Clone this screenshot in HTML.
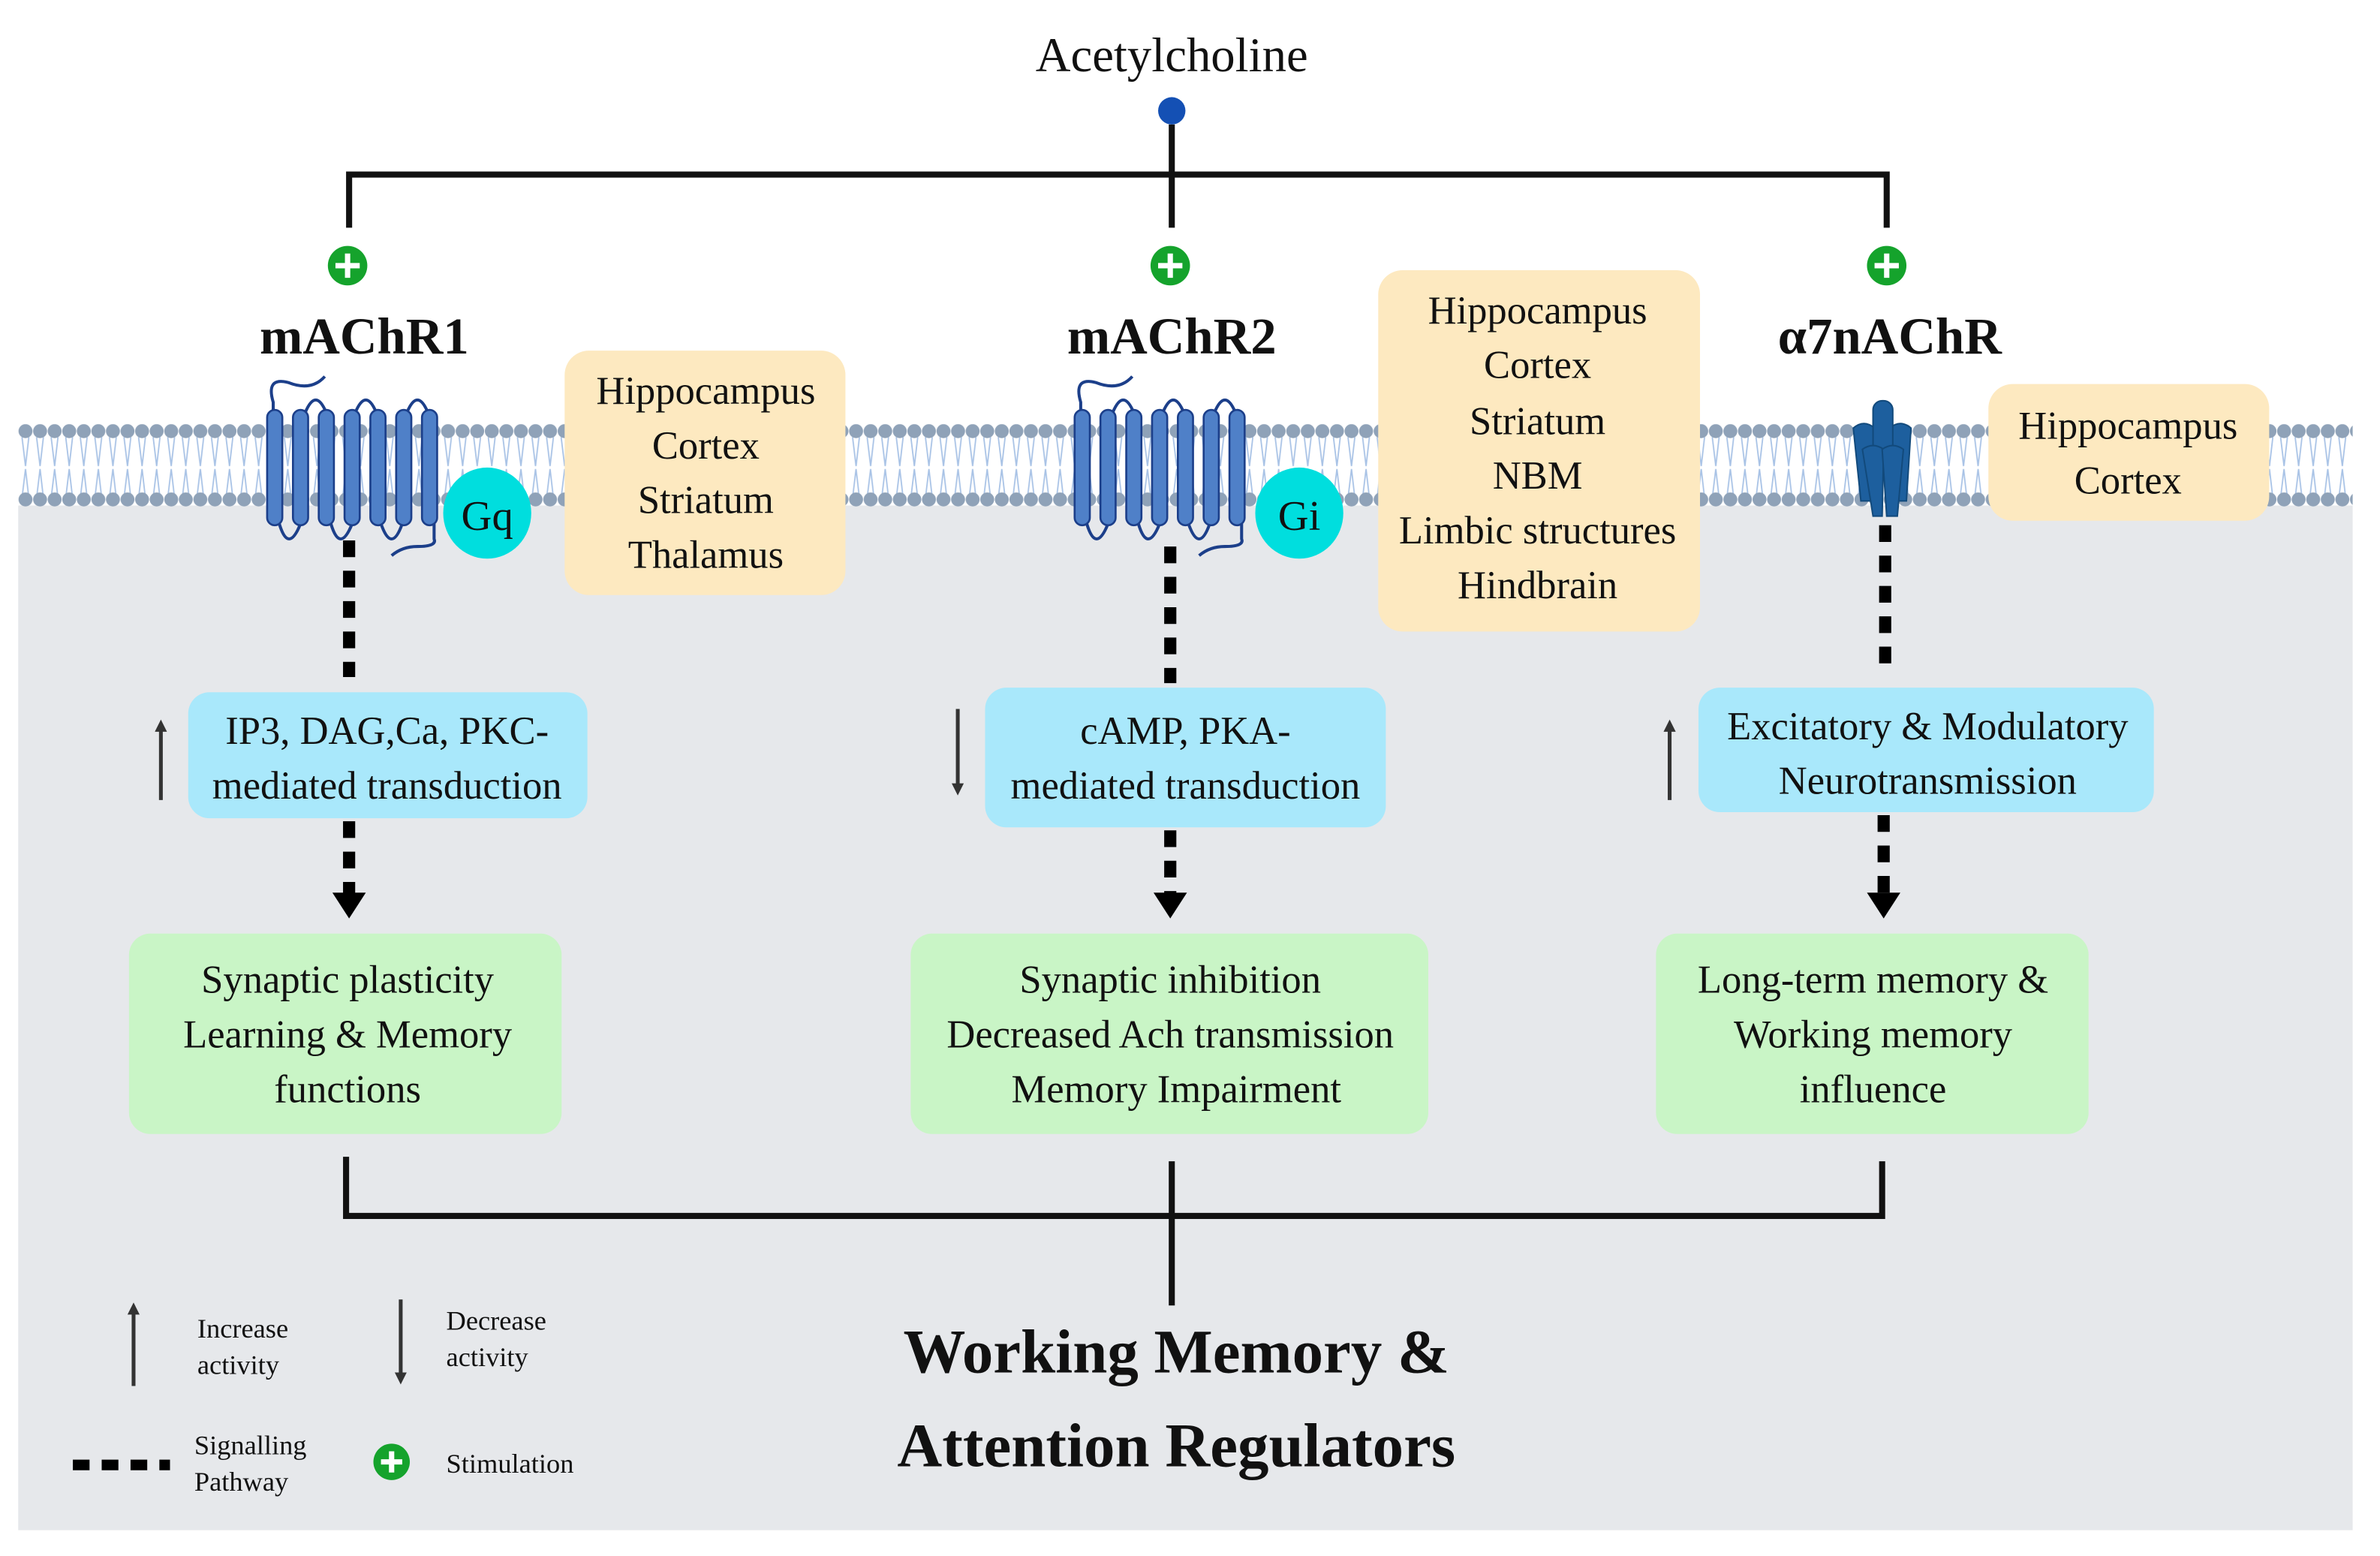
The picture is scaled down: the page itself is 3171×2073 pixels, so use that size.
<!DOCTYPE html>
<html><head><meta charset="utf-8"><style>
html,body{margin:0;padding:0;background:#fff}
svg{display:block}
text{font-family:"Liberation Serif","Times New Roman",serif;fill:#111}
</style></head><body>
<svg width="3171" height="2073" viewBox="0 0 1568 1025" preserveAspectRatio="none" xmlns="http://www.w3.org/2000/svg" font-family="Liberation Serif, serif">
<defs>
<pattern id="lip" x="12" y="278" width="9.6" height="60" patternUnits="userSpaceOnUse">
<path d="M2.5 10 L4.8 29 L7 10 M2.5 50 L4.8 31 L7 50" stroke="#a9c3e6" stroke-width="0.9" fill="none"/>
<circle cx="4.8" cy="6" r="4.6" fill="#8fa2b8"/>
<circle cx="4.8" cy="51" r="4.6" fill="#8fa2b8"/>
</pattern>
<marker id="ah" markerWidth="8" markerHeight="8" refX="4" refY="4" orient="auto" markerUnits="userSpaceOnUse"><path d="M0 0 L8 4 L0 8z" fill="#333"/></marker>
</defs>
<rect x="12" y="333" width="1538" height="675" fill="#e6e8eb"/>
<rect x="12" y="278" width="1538" height="60" fill="url(#lip)"/>

<text x="772" y="47" font-size="32" text-anchor="middle">Acetylcholine</text>
<circle cx="772" cy="73" r="9" fill="#1450b4"/>
<g stroke="#111" stroke-width="4" fill="none">
<path d="M772 82 V150 M230 150 V115 H1243 V150"/>
<path d="M228 762 V801 H1240 V765 M772 765 V860"/>
</g>
<g>
<circle cx="229" cy="175" r="13" fill="#15a32c"/><path d="M229 167 V183 M221 175 H237" stroke="#fff" stroke-width="3.5"/>
<circle cx="771" cy="175" r="13" fill="#15a32c"/><path d="M771 167 V183 M763 175 H779" stroke="#fff" stroke-width="3.5"/>
<circle cx="1243" cy="175" r="13" fill="#15a32c"/><path d="M1243 167 V183 M1235 175 H1251" stroke="#fff" stroke-width="3.5"/>
<circle cx="258" cy="963" r="12" fill="#15a32c"/><path d="M258 956 V970 M251 963 H265" stroke="#fff" stroke-width="3.5"/>
</g>
<g font-weight="bold" font-size="34" text-anchor="middle">
<text x="240" y="233">mAChR1</text><text x="772" y="233">mAChR2</text><text x="1245" y="233">α7nAChR</text>
</g>

<g id="g1" fill="none" stroke="#1c3f8a" stroke-width="2">
<path d="M214 248 Q205 258 190 252 Q175 248 180 265 L180 272"/>
<path d="M201 272 Q208 255 215 272 M234 272 Q241 255 248 272 M268 272 Q275 255 282 272"/>
<path d="M184 345 Q190 365 198 345 M218 345 Q224 365 232 345 M251 345 Q258 365 265 345"/>
<path d="M286 345 L286 355 Q288 360 275 360 Q265 360 258 366"/>
</g>
<g fill="#4f80c8" stroke="#1c3f8a" stroke-width="1.3">
<rect x="176" y="270" width="10" height="76" rx="5"/><rect x="193" y="270" width="10" height="76" rx="5"/><rect x="210" y="270" width="10" height="76" rx="5"/><rect x="227" y="270" width="10" height="76" rx="5"/><rect x="244" y="270" width="10" height="76" rx="5"/><rect x="261" y="270" width="10" height="76" rx="5"/><rect x="278" y="270" width="10" height="76" rx="5"/>
</g>
<use href="#g1" x="532"/>
<g fill="#4f80c8" stroke="#1c3f8a" stroke-width="1.3">
<rect x="708" y="270" width="10" height="76" rx="5"/><rect x="725" y="270" width="10" height="76" rx="5"/><rect x="742" y="270" width="10" height="76" rx="5"/><rect x="759" y="270" width="10" height="76" rx="5"/><rect x="776" y="270" width="10" height="76" rx="5"/><rect x="793" y="270" width="10" height="76" rx="5"/><rect x="810" y="270" width="10" height="76" rx="5"/>
</g>
<ellipse cx="321" cy="338" rx="29" ry="30" fill="#00dede"/><text x="321" y="349" font-size="28" text-anchor="middle">Gq</text>
<ellipse cx="856" cy="338" rx="29" ry="30" fill="#00dede"/><text x="856" y="349" font-size="28" text-anchor="middle">Gi</text>
<g fill="#1d5f9e" stroke="#124a7c" stroke-width="1">
<path d="M1221 282 Q1228 276 1235 282 L1233 330 L1226 330 Z"/>
<path d="M1245 282 Q1252 276 1259 282 L1256 330 L1249 330 Z"/>
<rect x="1234" y="264" width="13" height="50" rx="6"/>
<path d="M1227 296 Q1234 291 1241 296 L1240 340 L1234 340 Z"/>
<path d="M1240 296 Q1247 291 1254 296 L1250 340 L1243 340 Z"/>
</g>

<g fill="#fde9c0">
<rect x="372" y="231" width="185" height="161" rx="16"/>
<rect x="908" y="178" width="212" height="238" rx="16"/>
<rect x="1310" y="253" width="185" height="90" rx="16"/>
</g>
<g font-size="26" text-anchor="middle">
<text x="465" y="266">Hippocampus</text><text x="465" y="302">Cortex</text><text x="465" y="338">Striatum</text><text x="465" y="374">Thalamus</text>
<text x="1013" y="213">Hippocampus</text><text x="1013" y="249">Cortex</text><text x="1013" y="286">Striatum</text><text x="1013" y="322">NBM</text><text x="1013" y="358">Limbic structures</text><text x="1013" y="394">Hindbrain</text>
<text x="1402" y="289">Hippocampus</text><text x="1402" y="325">Cortex</text>
</g>

<g stroke="#000" stroke-width="8" stroke-dasharray="11 9" fill="none">
<path d="M230 356 V446 M230 541 V590"/>
<path d="M771 360 V450 M771 547 V590"/>
<path d="M1242 346 V446 M1241 537 V590"/>
</g>
<g fill="#000">
<path d="M219 588 L241 588 L230 605z"/><path d="M760 588 L782 588 L771 605z"/><path d="M1230 588 L1252 588 L1241 605z"/>
</g>

<g fill="#a9e8fb">
<rect x="124" y="456" width="263" height="83" rx="14"/>
<rect x="649" y="453" width="264" height="92" rx="14"/>
<rect x="1119" y="453" width="300" height="82" rx="14"/>
</g>
<g font-size="26" text-anchor="middle">
<text x="255" y="490">IP3, DAG,Ca, PKC-</text><text x="255" y="526">mediated transduction</text>
<text x="781" y="490">cAMP, PKA-</text><text x="781" y="526">mediated transduction</text>
<text x="1270" y="487">Excitatory &amp; Modulatory</text><text x="1270" y="523">Neurotransmission</text>
</g>
<g stroke="#333" stroke-width="2.5" fill="none">
<path d="M106 527 V478" marker-end="url(#ah)"/>
<path d="M631 467 V520" marker-end="url(#ah)"/>
<path d="M1100 527 V478" marker-end="url(#ah)"/>
<path d="M88 913 V862" marker-end="url(#ah)"/>
<path d="M264 856 V908" marker-end="url(#ah)"/>
</g>

<g fill="#c9f5c6">
<rect x="85" y="615" width="285" height="132" rx="14"/>
<rect x="600" y="615" width="341" height="132" rx="14"/>
<rect x="1091" y="615" width="285" height="132" rx="14"/>
</g>
<g font-size="26" text-anchor="middle">
<text x="229" y="654">Synaptic plasticity</text><text x="229" y="690">Learning &amp; Memory</text><text x="229" y="726">functions</text>
<text x="771" y="654">Synaptic inhibition</text><text x="771" y="690">Decreased Ach transmission</text><text x="775" y="726">Memory Impairment</text>
<text x="1234" y="654">Long-term memory &amp;</text><text x="1234" y="690">Working memory</text><text x="1234" y="726">influence</text>
</g>

<g font-weight="bold" font-size="41" text-anchor="middle">
<text x="775" y="904">Working Memory &amp;</text><text x="775" y="966">Attention Regulators</text>
</g>
<g font-size="18" fill="#222">
<text x="130" y="881">Increase</text><text x="130" y="905">activity</text>
<text x="294" y="876">Decrease</text><text x="294" y="900">activity</text>
<text x="128" y="958">Signalling</text><text x="128" y="982">Pathway</text>
<text x="294" y="970">Stimulation</text>
</g>
<path d="M48 965 H112" stroke="#000" stroke-width="7" stroke-dasharray="11 8"/>
</svg>
</body></html>
